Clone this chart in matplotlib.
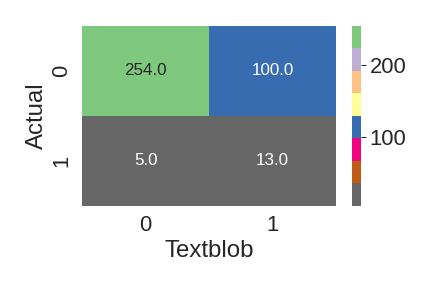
import numpy as np
import seaborn as sns
import matplotlib
matplotlib.use('Agg')
import matplotlib.pyplot as plt

# confusion matrix: rows = Actual, cols = Textblob
labels = ['0', '1']
row_0 = [254, 100]
row_1 = [5, 13]
cm = np.array([row_0, row_1], dtype=float)

sns.set(font_scale=2)
sns.set_style('white')
plt.rcParams['font.family'] = ['Liberation Sans', 'DejaVu Sans']

fig = plt.figure(figsize=(6, 4), dpi=72)
ax = fig.add_axes([0.19, 0.285, 0.588, 0.625])
cax = fig.add_axes([0.815, 0.285, 0.021, 0.625])
sns.heatmap(cm, annot=True, fmt='.1f', cmap='Accent_r', ax=ax, cbar_ax=cax,
            xticklabels=labels, yticklabels=labels, annot_kws={'size': 17})
ax.set_xlabel('Textblob')
ax.set_ylabel('Actual')
cax.set_yticks([100, 200])
cax.tick_params(length=5, width=1, left=False, right=True, color='#262626')
plt.savefig('out.png', dpi=72)
